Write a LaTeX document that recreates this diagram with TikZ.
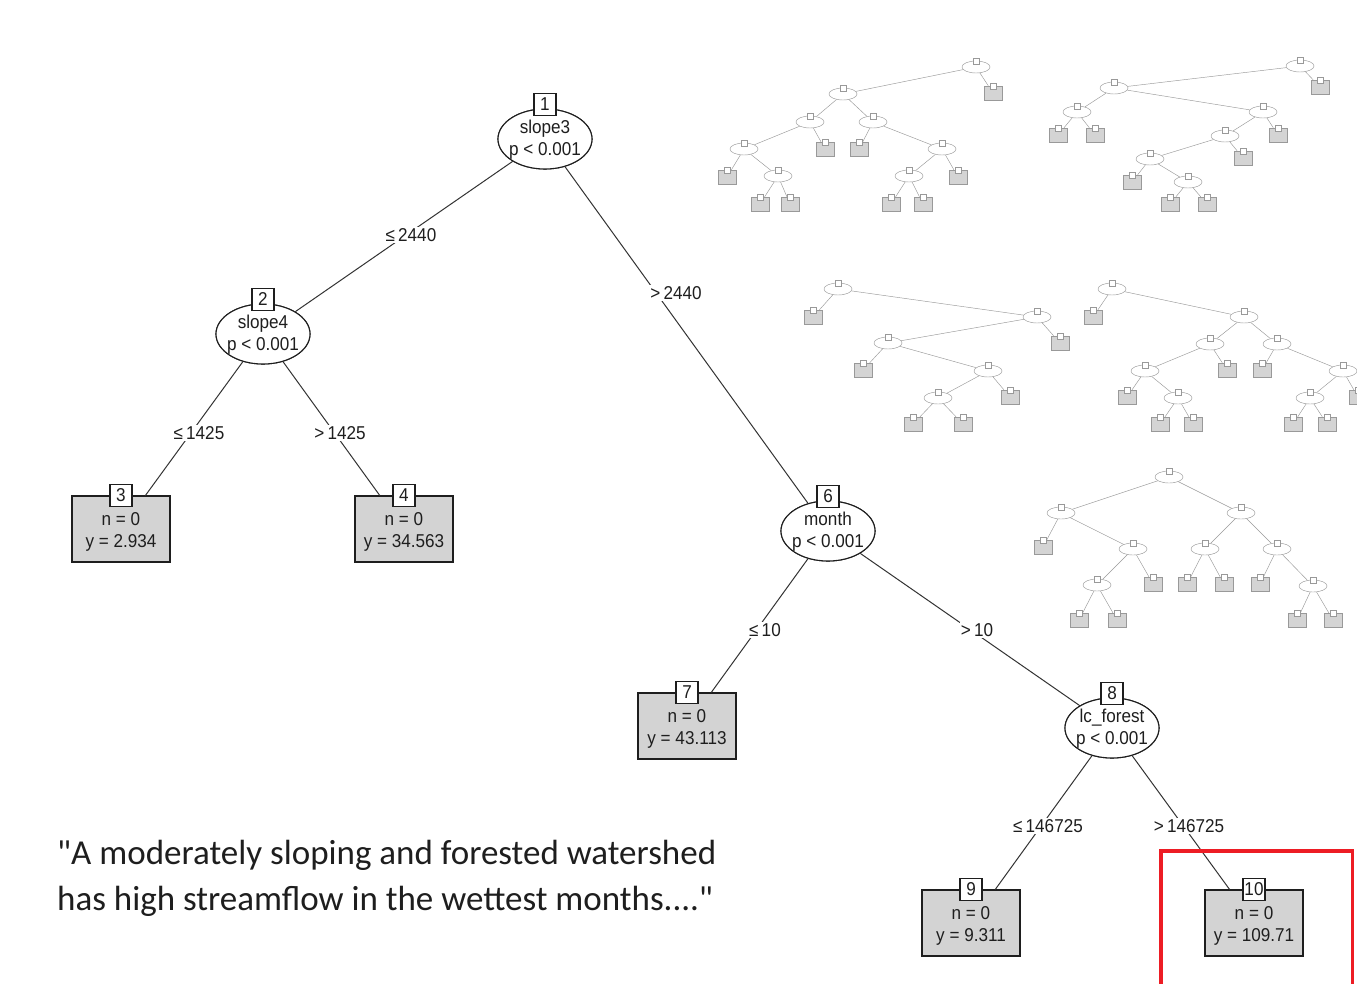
\documentclass[tikz,border=0pt]{standalone}
\usepackage{fontspec}
\setmainfont{Liberation Sans}
\newfontfamily\treefont[FakeStretch=0.92]{Liberation Sans}
\newfontfamily\quotefont{Carlito}
\usetikzlibrary{shapes.geometric}
\definecolor{ink}{HTML}{1E1E1E}
\definecolor{edgegray}{HTML}{333333}
\definecolor{leafgray}{HTML}{D3D3D3}
\definecolor{redframe}{HTML}{ED1C24}
\definecolor{ghost}{HTML}{999999}
\definecolor{ghostfill}{HTML}{D4D4D4}
\begin{document}
\begin{tikzpicture}[x=1pt,y=-1pt,
  mainfont/.style={font=\treefont\fontsize{18.6}{22}\selectfont, text=ink},
  inner/.style={ellipse, draw=ink, line width=1.1pt, fill=white, minimum width=94pt, minimum height=60pt, inner sep=0pt},
  txt/.style={mainfont, align=center, inner sep=0pt},
  leaf/.style={rectangle, draw=ink, line width=1.1pt, fill=leafgray, minimum width=98pt, minimum height=66pt, inner sep=0pt, align=center, mainfont},
  num/.style={rectangle, draw=ink, line width=1.1pt, fill=white, minimum width=22pt, minimum height=22pt, inner sep=1pt, mainfont},
  edge/.style={draw=edgegray, line width=1pt},
  elab/.style={mainfont, fill=white, inner sep=1pt},
  sel/.style={ellipse, draw=ghost, line width=0.45pt, fill=white, minimum width=28pt, minimum height=12pt, inner sep=0pt, label={[sq]90:{}}},
  sleaf/.style={rectangle, draw=ghost, line width=0.45pt, fill=ghostfill, minimum width=18pt, minimum height=14pt, inner sep=0pt, label={[sq]90:{}}},
  sq/.style={draw=ghost, line width=0.35pt, fill=white, minimum size=6pt, inner sep=0pt, anchor=center},
  sedge/.style={draw=ghost, line width=0.45pt}
]
\useasboundingbox[fill=white] (0,0) rectangle (1357,983);

% ---------- main tree nodes ----------
\node[inner] (n1) at (545,139) {};
\node[inner] (n2) at (263,334) {};
\node[inner] (n6) at (828,531) {};
\node[inner] (n8) at (1112,728) {};
\node[leaf] (n3) at (121,529) {};
\node[leaf] (n4) at (404,529) {};
\node[leaf] (n7) at (687,726) {};
\node[leaf] (n9) at (971,923) {};
\node[leaf] (n10) at (1254,923) {};

% ---------- main edges ----------
\draw[edge] (n1) -- (n2);
\draw[edge] (n1) -- (n6);
\draw[edge] (n2) -- (n3);
\draw[edge] (n2) -- (n4);
\draw[edge] (n6) -- (n7);
\draw[edge] (n6) -- (n8);
\draw[edge] (n8) -- (n9);
\draw[edge] (n8) -- (n10);

% redraw inner nodes on top of edges
\node[inner] at (n1) {};
\node[inner] at (n2) {};
\node[inner] at (n6) {};
\node[inner] at (n8) {};
\node[txt] (n1t) at ([yshift=-1pt]n1.center) {slope3\\p < 0.001};
\node[txt] (n2t) at ([yshift=-1pt]n2.center) {slope4\\p < 0.001};
\node[txt] (n6t) at ([yshift=-1pt]n6.center) {month\\p < 0.001};
\node[txt] (n8t) at ([yshift=-1pt]n8.center) {lc\_forest\\p < 0.001};
\node[txt] (n3t) at ([yshift=-3pt]n3.center) {n = 0\\y = 2.934};
\node[txt] (n4t) at ([yshift=-3pt]n4.center) {n = 0\\y = 34.563};
\node[txt] (n7t) at ([yshift=-3pt]n7.center) {n = 0\\y = 43.113};
\node[txt] (n9t) at ([yshift=-3pt]n9.center) {n = 0\\y = 9.311};
\node[txt] (n10t) at ([yshift=-3pt]n10.center) {n = 0\\y = 109.71};

% number boxes
\node[num] (b1) at ([yshift=4pt]n1.north) {1};
\node[num] (b2) at ([yshift=4pt]n2.north) {2};
\node[num] (b6) at ([yshift=4pt]n6.north) {6};
\node[num] (b8) at ([yshift=4pt]n8.north) {8};
\node[num] (b3) at (n3.north) {3};
\node[num] (b4) at (n4.north) {4};
\node[num] (b7) at (n7.north) {7};
\node[num] (b9) at (n9.north) {9};
\node[num] (b10) at (n10.north) {10};

% edge labels
\node[elab] (l12) at (411,235) {≤\,2440};
\node[elab] (l16) at (676,293) {>\,2440};
\node[elab] (l23) at (199,433) {≤\,1425};
\node[elab] (l24) at (340,433) {>\,1425};
\node[elab] (l67) at (765,630) {≤\,10};
\node[elab] (l68) at (977,630) {>\,10};
\node[elab] (l89) at (1048,826) {≤\,146725};
\node[elab] (l810) at (1189,826) {>\,146725};

% ---------- quote ----------
\node[anchor=base west, inner sep=0pt, text=ink, font=\quotefont\fontsize{35}{46}\selectfont] (q1) at (57,864) {"A moderately sloping and forested watershed};
\node[anchor=base west, inner sep=0pt, text=ink, font=\quotefont\fontsize{35}{46}\selectfont] (q2) at (57,910) {has high streamflow in the wettest months...."};

% ---------- red frame ----------
\draw[redframe, line width=3.5pt] (1161,990) -- (1161,851) -- (1352.5,851) -- (1352.5,990);

% ---------- small tree A ----------
\node[sel] (a1) at (976,67) {};
\node[sleaf] (a2) at (993,93) {};
\node[sel] (a3) at (843,94) {};
\node[sel] (a4) at (810,122) {};
\node[sleaf] (a5) at (825,149) {};
\node[sel] (a6) at (744,149) {};
\node[sleaf] (a7) at (727,177) {};
\node[sel] (a8) at (778,176) {};
\node[sleaf] (a9) at (760,204) {};
\node[sleaf] (a10) at (790,204) {};
\node[sel] (a11) at (873,122) {};
\node[sleaf] (a12) at (859,149) {};
\node[sel] (a13) at (942,149) {};
\node[sel] (a14) at (909,176) {};
\node[sleaf] (a15) at (891,204) {};
\node[sleaf] (a16) at (923,204) {};
\node[sleaf] (a17) at (958,177) {};
\foreach \p/\c in {a1/a2,a1/a3,a3/a4,a3/a11,a4/a6,a4/a5,a6/a7,a6/a8,a8/a9,a8/a10,a11/a12,a11/a13,a13/a14,a13/a17,a14/a15,a14/a16}
  \draw[sedge] (\p) -- (\c);

% ---------- small tree B ----------
\node[sel] (b1s) at (1300,66) {};
\node[sleaf] (b2s) at (1320,87) {};
\node[sel] (b3s) at (1114,88) {};
\node[sel] (b4s) at (1077,112) {};
\node[sleaf] (b5s) at (1058,135) {};
\node[sleaf] (b6s) at (1095,135) {};
\node[sel] (b7s) at (1263,112) {};
\node[sel] (b8s) at (1225,136) {};
\node[sleaf] (b9s) at (1278,135) {};
\node[sel] (b10s) at (1150,159) {};
\node[sleaf] (b11s) at (1243,158) {};
\node[sleaf] (b12s) at (1132,182) {};
\node[sel] (b13s) at (1188,182) {};
\node[sleaf] (b14s) at (1170,204) {};
\node[sleaf] (b15s) at (1207,204) {};
\foreach \p/\c in {b1s/b2s,b1s/b3s,b3s/b4s,b3s/b7s,b4s/b5s,b4s/b6s,b7s/b8s,b7s/b9s,b8s/b10s,b8s/b11s,b10s/b12s,b10s/b13s,b13s/b14s,b13s/b15s}
  \draw[sedge] (\p) -- (\c);

% ---------- small tree C ----------
\node[sel] (c1) at (838,289) {};
\node[sleaf] (c2) at (813,317) {};
\node[sel] (c3) at (1037,317) {};
\node[sleaf] (c4) at (1060,343) {};
\node[sel] (c5) at (888,343) {};
\node[sleaf] (c6) at (863,370) {};
\node[sel] (c7) at (988,371) {};
\node[sleaf] (c8) at (1010,397) {};
\node[sel] (c9) at (938,398) {};
\node[sleaf] (c10) at (913,424) {};
\node[sleaf] (c11) at (963,424) {};
\foreach \p/\c in {c1/c2,c1/c3,c3/c5,c3/c4,c5/c6,c5/c7,c7/c9,c7/c8,c9/c10,c9/c11}
  \draw[sedge] (\p) -- (\c);

% ---------- small tree D ----------
\node[sel] (d1) at (1112,289) {};
\node[sleaf] (d2) at (1093,317) {};
\node[sel] (d3) at (1244,317) {};
\node[sel] (d4) at (1210,344) {};
\node[sel] (d5) at (1277,344) {};
\node[sel] (d6) at (1145,371) {};
\node[sleaf] (d7) at (1227,370) {};
\node[sleaf] (d8) at (1262,370) {};
\node[sel] (d9) at (1343,371) {};
\node[sleaf] (d10) at (1127,397) {};
\node[sel] (d11) at (1178,398) {};
\node[sleaf] (d12) at (1160,424) {};
\node[sleaf] (d13) at (1193,424) {};
\node[sel] (d14) at (1310,398) {};
\node[sleaf] (d15) at (1358,397) {};
\node[sleaf] (d16) at (1293,424) {};
\node[sleaf] (d17) at (1327,424) {};
\foreach \p/\c in {d1/d2,d1/d3,d3/d4,d3/d5,d4/d6,d4/d7,d5/d8,d5/d9,d6/d10,d6/d11,d11/d12,d11/d13,d9/d14,d9/d15,d14/d16,d14/d17}
  \draw[sedge] (\p) -- (\c);

% ---------- small tree E ----------
\node[sel] (e1) at (1169,477) {};
\node[sel] (e2) at (1061,513) {};
\node[sel] (e3) at (1241,513) {};
\node[sleaf] (e4) at (1043,547) {};
\node[sel] (e5) at (1133,549) {};
\node[sel] (e6) at (1205,549) {};
\node[sel] (e7) at (1277,549) {};
\node[sel] (e8) at (1097,585) {};
\node[sleaf] (e9) at (1153,584) {};
\node[sleaf] (e10) at (1187,584) {};
\node[sleaf] (e11) at (1224,584) {};
\node[sleaf] (e12) at (1260,584) {};
\node[sel] (e13) at (1313,586) {};
\node[sleaf] (e14) at (1079,620) {};
\node[sleaf] (e15) at (1117,620) {};
\node[sleaf] (e16) at (1297,620) {};
\node[sleaf] (e17) at (1333,620) {};
\foreach \p/\c in {e1/e2,e1/e3,e2/e4,e2/e5,e5/e8,e5/e9,e8/e14,e8/e15,e3/e6,e3/e7,e6/e10,e6/e11,e7/e12,e7/e13,e13/e16,e13/e17}
  \draw[sedge] (\p) -- (\c);
\end{tikzpicture}
\end{document}
